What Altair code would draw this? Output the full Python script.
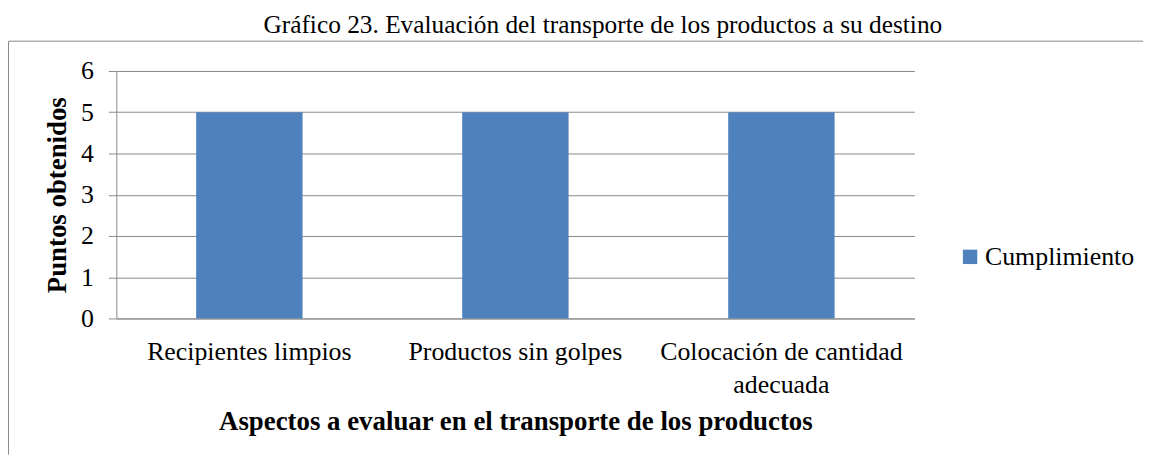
import altair as alt
import pandas as pd

categories = ["Recipientes limpios", "Productos sin golpes", "Colocación de cantidad adecuada"]
values = [5, 5, 5]
series = ["Cumplimiento", "Cumplimiento", "Cumplimiento"]
y_ticks = [0, 1, 2, 3, 4, 5, 6]

FONT = "Liberation Serif"
GRAY = "#8a8a8a"

df = pd.DataFrame({"aspecto": categories, "puntos": values, "serie": series})

bars = alt.Chart(df).mark_bar(color="#4F81BD").encode(
    x=alt.X(
        "aspecto:N",
        sort=categories,
        scale=alt.Scale(paddingInner=0.6, paddingOuter=0.3),
        axis=alt.Axis(
            title="Aspectos a evaluar en el transporte de los productos",
            labelAngle=0,
            ticks=False,
            labelPadding=20,
            labelLineHeight=33,
            labelLimit=0,
            labelExpr="datum.label == 'Colocación de cantidad adecuada' ? ['Colocación de cantidad', 'adecuada'] : datum.label",
            titlePadding=12,
            domainColor=GRAY,
        ),
    ),
    y=alt.Y(
        "puntos:Q",
        scale=alt.Scale(domain=[0, 6], nice=False),
        axis=alt.Axis(
            title="Puntos obtenidos",
            values=y_ticks,
            format="d",
            tickSize=8,
            tickColor=GRAY,
            domainColor=GRAY,
            gridColor=GRAY,
            labelPadding=15,
            titlePadding=9,
        ),
    ),
    color=alt.Color(
        "serie:N",
        scale=alt.Scale(range=["#4F81BD"]),
        legend=alt.Legend(
            title=None,
            orient="none",
            legendX=846,
            legendY=174,
            symbolType="square",
            symbolSize=210,
            symbolStrokeWidth=0,
            labelOffset=2,
            padding=0,
        ),
    ),
)

border_df = pd.DataFrame({"k": [0]})
left_line = alt.Chart(border_df).mark_rule(color=GRAY, strokeWidth=1).encode(
    x=alt.value(-108.5), y=alt.value(-30), y2=alt.value(386)
)
top_line = alt.Chart(border_df).mark_rule(color=GRAY, strokeWidth=1).encode(
    x=alt.value(-108.5), x2=alt.value(1033), y=alt.value(-30)
)

chart = alt.layer(left_line, top_line, bars).properties(
    width=803,
    height=249,
    padding={"top": 4, "left": 0, "right": 0, "bottom": 0},
    title=alt.TitleParams(
        "Gráfico 23. Evaluación del transporte de los productos a su destino",
        font=FONT,
        fontSize=25.5,
        fontWeight="normal",
        color="black",
        anchor="middle",
        dx=88,
        offset=2,
    ),
).configure_view(stroke=None).configure_axis(
    labelFont=FONT,
    labelFontSize=26,
    labelColor="black",
    titleFont=FONT,
    titleFontSize=27,
    titleFontWeight="bold",
    titleColor="black",
).configure_legend(
    labelFont=FONT,
    labelFontSize=26,
    labelColor="black",
)

chart.save("out.html", embed_options={"renderer": "svg", "actions": False})
